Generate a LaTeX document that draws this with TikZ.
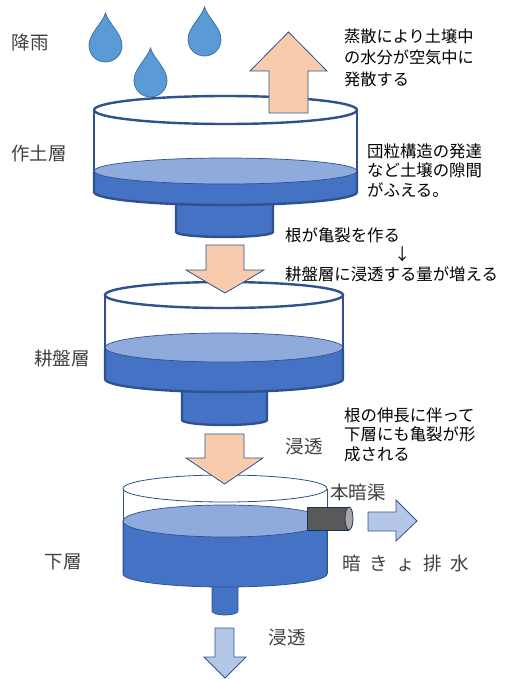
\documentclass[tikz,border=0pt]{standalone}
\usepackage{fontspec}
\setmainfont{Noto Sans CJK JP}
\usepackage{tikz}
\definecolor{slline}{HTML}{2F528F}
\definecolor{slblue}{HTML}{4472C4}
\definecolor{slsurf}{HTML}{8FAADC}
\definecolor{sltanfill}{HTML}{F8CBAD}
\definecolor{sllight}{HTML}{B4C7E7}
\definecolor{sldropfill}{HTML}{5B9BD5}
\definecolor{sldropline}{HTML}{41719C}
\definecolor{sltext}{HTML}{404040}
\tikzset{
  slrim/.style={draw=slline, fill=white, line width=2.4pt},
  slwall/.style={draw=slline, line width=2.4pt},
  slwater/.style={draw=slline, fill=slblue, line width=2.4pt},
  slsurface/.style={draw=slline, fill=slsurf, line width=0.7pt},
  slthin/.style={line width=0.8pt},
  sltan/.style={draw=slline, fill=sltanfill, line width=0.8pt},
  sllightarrow/.style={draw=slline, fill=sllight, line width=0.8pt},
  slpipe/.style={draw=slline!60!black, fill=black!65, line width=0.8pt},
  slpipeend/.style={draw=slline!60!black, fill=black!35, line width=0.8pt},
  sldrop/.style={draw=sldropline, fill=sldropfill, line width=0.8pt},
  sllabel/.style={font=\fontsize{18.5}{22}\selectfont, text=sltext, inner sep=0pt},
  slnote/.style={font=\fontsize{16.4}{19.3}\selectfont, align=left, anchor=north west, inner sep=0pt},
  pics/raindrop/.style={code={
    \filldraw[sldrop] (0,-32.5) .. controls (3,-22) and (16.5,-12) .. (16.5,0)
      arc[start angle=0, end angle=180, radius=16.5]
      .. controls (-16.5,-12) and (-3,-22) .. cycle;
  }}
}

\begin{document}
\begin{tikzpicture}[x=1pt,y=-1pt]
  \useasboundingbox (0,0) rectangle (504,679);

  % topsoil
  \filldraw[slwater] (176,190) -- (176,232) arc[start angle=180, end angle=0, x radius=48.5, y radius=5] -- (273,190);
  \draw[slrim] (225.5,110) ellipse[x radius=131.5, y radius=14];
  \filldraw[slwater] (94,171) -- (94,192) arc[start angle=180, end angle=0, x radius=131.5, y radius=13] -- (357,171);
  \filldraw[slsurface] (225.5,171) ellipse[x radius=131.5, y radius=13];
  \draw[slwall] (94,110) -- (94,193) (357,110) -- (357,193);

  % plough pan
  \filldraw[slwater] (182,377) -- (182,420) arc[start angle=180, end angle=0, x radius=42.5, y radius=5] -- (267,377);
  \draw[slrim] (224,295) ellipse[x radius=119, y radius=13];
  \filldraw[slwater] (105,347.5) -- (105,379) arc[start angle=180, end angle=0, x radius=119, y radius=13] -- (343,347.5);
  \filldraw[slsurface] (224,347.5) ellipse[x radius=119, y radius=14.5];
  \draw[slwall] (105,295) -- (105,380) (343,295) -- (343,380);

  % subsoil with drain pipe
  \filldraw[slwater,slthin] (212,572) -- (212,611) arc[start angle=180, end angle=0, x radius=13, y radius=4] -- (238,572);
  \draw[slrim,slthin] (225,488.5) ellipse[x radius=102, y radius=13.5];
  \filldraw[slwater,slthin] (123,521) -- (123,574) arc[start angle=180, end angle=0, x radius=102, y radius=13] -- (327,521);
  \filldraw[slsurface] (225,521) ellipse[x radius=102, y radius=16];
  \draw[slwall,slthin] (123,488.5) -- (123,574) (327,488.5) -- (327,574);
  \filldraw[slpipe] (349,507) -- (307,507) -- (307,530) -- (349,530);
  \filldraw[slpipeend] (349,518.5) ellipse[x radius=4, y radius=11.5];

  % block arrows
  \filldraw[sltan] (269,113) -- (269,71) -- (250,71) -- (288.5,32) -- (327,71) -- (308,71) -- (308,113) -- cycle;
  \filldraw[sltan] (206,245) -- (206,270) -- (186,270) -- (225,293) -- (264,270) -- (244,270) -- (244,245) -- cycle;
  \filldraw[sltan] (205,434) -- (205,458) -- (186,458) -- (224.5,484) -- (263,458) -- (244,458) -- (244,434) -- cycle;
  \filldraw[sllightarrow] (368,512) -- (396,512) -- (396,500) -- (417,521) -- (396,541) -- (396,531) -- (368,531) -- cycle;
  \filldraw[sllightarrow] (215,628) -- (234,628) -- (234,657) -- (246,657) -- (225,678) -- (204,657) -- (215,657) -- cycle;

  % rain
  \pic at (105.5,45.5) {raindrop};
  \pic at (204.5,39.5) {raindrop};
  \pic at (150.5,80.5) {raindrop};

  % labels
  \node[sllabel] (rain) at (30,42) {降雨};
  \node[sllabel] (topsoil) at (39,153) {作土層};
  \node[sllabel] (pan) at (62,358) {耕盤層};
  \node[sllabel] (subsoil) at (63,562) {下層};
  \node[sllabel] (seep1) at (304,447) {浸透};
  \node[sllabel] (seep2) at (287,638) {浸透};
  \node[sllabel] (pipe) at (358,492) {本暗渠};
  \node[sllabel,anchor=west] (drain) at (342,563) {暗\hspace{8.5pt}き\hspace{8.5pt}ょ\hspace{8.5pt}排\hspace{8.5pt}水};

  \node[slnote,font=\fontsize{16.2}{21.5}\selectfont] (evap) at (344,28.5)
    {蒸散により土壌中\\の水分が空気中に\\発散する};
  \node[slnote] (crumb) at (367,143.5)
    {団粒構造の発達\\など土壌の隙間\\がふえる。};
  \node[slnote] (crack) at (285,227.5)
    {根が亀裂を作る\\\hspace*{109pt}↓\\耕盤層に浸透する量が増える};
  \node[slnote] (roots) at (344,407.5)
    {根の伸長に伴って\\下層にも亀裂が形\\成される};
\end{tikzpicture}
\end{document}
